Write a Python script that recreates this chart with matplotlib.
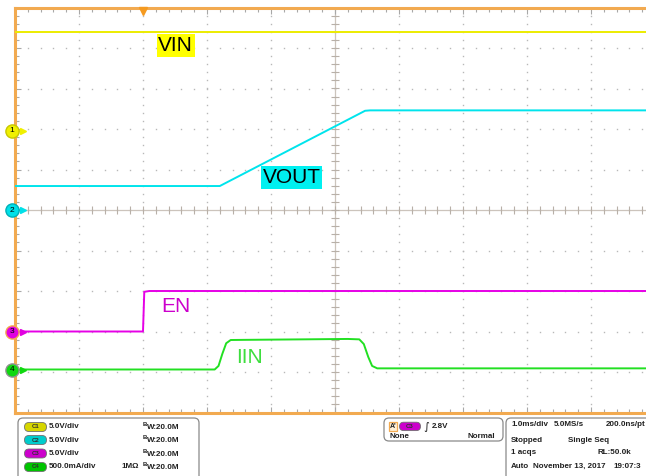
import matplotlib.pyplot as plt
import numpy as np
from matplotlib.patches import FancyBboxPatch
from matplotlib.transforms import blended_transform_factory

plt.rcParams["font.family"] = ["Liberation Sans", "DejaVu Sans"]

# Escala (unidad/div) y posición de tierra (div) de cada canal
CH_SCALE = {"C1": 5.0, "C2": 5.0, "C3": 5.0, "C4": 0.5}
CH_OFFSET = {"C1": 1.96, "C2": 0.0, "C3": -3.0, "C4": -3.95}

# Datos (tiempo en ms, trigger en t = 0)
vin_t = [-2.0, 8.0]
vin_v = [12.2, 12.2]

vout_t = [-2.0, 1.20, 3.47, 3.55, 8.0]
vout_v = [2.96, 2.96, 12.25, 12.3, 12.3]

en_t = [-2.0, 0.0, 0.02, 0.1, 8.0]
en_v = [0.0, 0.0, 4.9, 5.0, 5.0]

iin_t = [-2.0, 1.12, 1.18, 1.24, 1.30, 1.37, 1.6, 2.5, 3.2,
         3.38, 3.45, 3.52, 3.58, 3.66, 8.0]
iin_a = [0.006, 0.006, 0.05, 0.2, 0.33, 0.37, 0.372, 0.378, 0.383,
         0.378, 0.32, 0.16, 0.05, 0.02, 0.02]

# Texto del panel inferior
ch_names = ["C1", "C2", "C3", "C4"]
ch_scale_txt = ["5.0V/div", "5.0V/div", "5.0V/div", "500.0mA/div"]
ch_colors = ["#d6d600", "#00cccc", "#cc00cc", "#00c400"]
acq_rows = [
    ["1.0ms/div", "5.0MS/s", "200.0ns/pt"],
    ["Stopped", "Single Seq"],
    ["1 acqs", "RL:50.0k"],
    ["Auto", "November 13, 2017", "19:07:3"],
]

YELLOW = "#ecec00"
CYAN = "#00e4ec"
MAGENTA = "#e600e6"
GREEN = "#22e022"
ORANGE = "#f2aa50"


def to_div(values, ch):
    return CH_OFFSET[ch] + np.asarray(values) / CH_SCALE[ch]


# ============================================================
# Figura y retícula
# ============================================================

W, H = 646, 476
L, T, R, B = 15, 7.5, 655, 412.5

fig = plt.figure(figsize=(W / 100, H / 100), dpi=100)
fig.patch.set_facecolor("white")

ax = fig.add_axes([L / W, 1 - B / H, (R - L) / W, (B - T) / H])
ax.set_xlim(-2, 8)
ax.set_ylim(-5, 5)

for side in ["left", "top", "bottom"]:
    ax.spines[side].set_color(ORANGE)
    ax.spines[side].set_linewidth(2.2)
ax.spines["right"].set_visible(False)

ax.set_xticks(np.arange(-2, 9))
ax.set_xticks(np.arange(-2, 8.01, 0.2), minor=True)
ax.set_yticks(np.arange(-5, 6))
ax.set_yticks(np.arange(-5, 5.01, 0.2), minor=True)
ax.tick_params(which="both", direction="in", top=True, bottom=True,
               left=True, right=False, labelbottom=False,
               labelleft=False, color="#a8a8a8", width=0.8)
ax.tick_params(which="major", length=4.5)
ax.tick_params(which="minor", length=2.6)

# puntos de la retícula
xmaj = np.arange(-1, 8)
ymaj = np.arange(-4, 5)
xmin = np.arange(-2, 8.01, 0.2)
ymin = np.arange(-5, 5.01, 0.2)
gx, gy = np.meshgrid(xmin, ymaj)
ax.plot(gx.ravel(), gy.ravel(), ls="none", marker="s", ms=1.0,
        mew=0, color="#b8b8b8", zorder=1)
gx, gy = np.meshgrid(xmaj, ymin)
ax.plot(gx.ravel(), gy.ravel(), ls="none", marker="s", ms=1.0,
        mew=0, color="#b8b8b8", zorder=1)

# ejes centrales
ax.axvline(3, color="#ccc4bc", lw=0.9, zorder=1)
ax.axhline(0, color="#ccc4bc", lw=0.9, zorder=1)
ax.plot(np.full_like(ymin, 3), ymin, ls="none", marker="_", ms=6,
        mew=0.8, color="#b8b0a8", zorder=1)
ax.plot(xmin, np.zeros_like(xmin), ls="none", marker="|", ms=6,
        mew=0.8, color="#b8b0a8", zorder=1)

# ============================================================
# Señales
# ============================================================

ax.plot(vin_t, to_div(vin_v, "C1"), color=YELLOW, lw=1.4, zorder=3)
ax.plot(vout_t, to_div(vout_v, "C2"), color=CYAN, lw=1.4, zorder=3)
ax.plot(en_t, to_div(en_v, "C3"), color=MAGENTA, lw=1.4, zorder=3)
ax.plot(iin_t, to_div(iin_a, "C4"), color=GREEN, lw=1.4, zorder=3)

# etiquetas
ax.text(0.51, 4.06, "VIN", fontsize=15, color="black", ha="center",
        va="center", bbox=dict(boxstyle="square,pad=0.08",
                               fc="#ffff00", ec="none"), zorder=4)
ax.text(2.32, 0.80, "VOUT", fontsize=15, color="black", ha="center",
        va="center", bbox=dict(boxstyle="square,pad=0.08",
                               fc="#00f0f0", ec="none"), zorder=4)
ax.text(0.52, -2.38, "EN", fontsize=15, color="#cc00cc", ha="center",
        va="center", zorder=4)
ax.text(1.66, -3.63, "IIN", fontsize=15, color="#3ede3e", ha="center",
        va="center", zorder=4)

# marcadores de tierra de cada canal
mk = blended_transform_factory(ax.transAxes, ax.transData)
marker_fc = ["#f0f000", "#00e0e8", "#e000e0", "#10d810"]
marker_ec = ["#c8c800", "#00b0b8", ORANGE, "#909090"]
for i, ch in enumerate(ch_names):
    y = CH_OFFSET[ch]
    ax.plot([-0.005, 0.012], [y, y], transform=mk, color=marker_fc[i],
            lw=1.2, clip_on=False, zorder=6)
    ax.plot(0.013, y, transform=mk, marker=">", ms=4.5,
            color=marker_fc[i], clip_on=False, zorder=6)
    ax.plot(-0.0047, y, transform=mk, marker="o", ms=9.5,
            mfc=marker_fc[i], mec=marker_ec[i], mew=1.0,
            clip_on=False, zorder=7)
    ax.text(-0.0047, y, str(i + 1), transform=mk, fontsize=6,
            ha="center", va="center", color="black", zorder=8,
            clip_on=False)

# marcador del trigger
tr = blended_transform_factory(ax.transData, ax.transAxes)
ax.plot(0, 0.992, transform=tr, marker="v", ms=6, color="#f59a20",
        clip_on=False, zorder=6)

# ============================================================
# Panel inferior
# ============================================================

ov = fig.add_axes([0, 0, 1, 1])
ov.set_xlim(0, W)
ov.set_ylim(H, 0)
ov.axis("off")


def box(x0, y0, x1, y1):
    ov.add_patch(FancyBboxPatch(
        (x0, y0), x1 - x0, y1 - y0,
        boxstyle="round,pad=0,rounding_size=5",
        fc="none", ec="#8a8a8a", lw=0.9, clip_on=False,
    ))


box(18, 418, 199, 482)
box(384, 418, 503, 441)
box(506, 418, 665, 482)

txt = dict(fontsize=5.8, fontweight="bold", color="#202020",
           va="center")

rows_y = [427, 440, 453.5, 467]
for i, y in enumerate(rows_y):
    ov.add_patch(FancyBboxPatch(
        (24.5, y - 4.5), 22, 9,
        boxstyle="round,pad=0,rounding_size=4.5",
        fc=ch_colors[i], ec="#707070", lw=0.6,
    ))
    ov.text(35.5, y, ch_names[i], fontsize=4.3, fontweight="bold",
            color="#303030", ha="center", va="center")
    ov.text(49, y, ch_scale_txt[i], **txt)
    ov.text(142.3, y - 2.3, "B", fontsize=4.3, fontweight="bold",
            color="#202020", va="center")
    ov.text(146.8, y + 0.8, "W:20.0M", **txt)
ov.text(121.5, rows_y[3], "1MΩ", **txt)

# trigger
ov.add_patch(FancyBboxPatch((389, 422), 8, 8.5,
                            boxstyle="square,pad=0",
                            fc="#fff0d8", ec=ORANGE, lw=0.9))
ov.text(393, 426.5, "A'", fontsize=5, fontweight="bold",
        ha="center", va="center", color="#202020")
ov.add_patch(FancyBboxPatch(
    (399.5, 422.2), 21, 8.4,
    boxstyle="round,pad=0,rounding_size=4.2",
    fc="#cc00cc", ec="#707070", lw=0.6,
))
ov.text(410, 426.4, "C3", fontsize=4.3, fontweight="bold",
        color="#303030", ha="center", va="center")
ov.text(423.5, 426.5, "∫", fontsize=8, color="#202020", va="center",
        family="DejaVu Sans")
ov.text(432, 426.5, "2.8V", **txt)
ov.text(390, 437, "None", **txt)
ov.text(467, 437, "Normal", **txt)

# adquisición
acq_x = [
    [511, 554, 606],
    [511, 568],
    [511, 597],
    [511, 533, 613],
]
acq_y = [425, 440, 453, 466]
for row, xs, y in zip(acq_rows, acq_x, acq_y):
    for s, x in zip(row, xs):
        ov.text(x, y, s, **txt)

fig.savefig("out.png", dpi=100)
